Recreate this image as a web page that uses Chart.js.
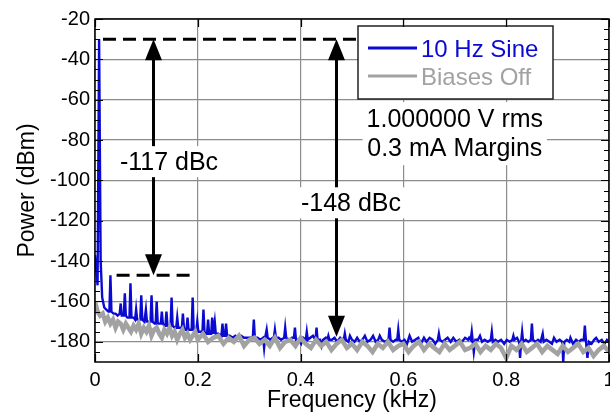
<!DOCTYPE html>
<html><head><meta charset="utf-8">
<script src="https://cdn.jsdelivr.net/npm/chart.js@4.4.1/dist/chart.umd.min.js"></script>
<style>html,body{margin:0;padding:0;background:#fff}canvas{display:block}</style>
</head><body>
<canvas id="c" width="610" height="415"></canvas>
<script>
// ---- tick labels ----
const xTicks = [0, 0.2, 0.4, 0.6, 0.8, 1];
const yTicks = [-20, -40, -60, -80, -100, -120, -140, -160, -180];

// ---- series: 10 Hz Sine (frequency in Hz, power in dBm) ----
const sineFreqHz = [0,5,8,11,14,18,22,26,28,30,32,36,40,44,48,50,52,56,58,60,63,67,69,71,75,78,80,82,86,88,90,92,96,97,99,101,105,108,110,112,116,118,120,122,126,128,130,132,135,137,139,141,145,147,149,151,155,158,160,162,166,169,171,173,176,178,180,182,186,188,190,192,196,197,199,201,205,209,211,213,216,218,220,222,226,228,230,233,235,240,246,248,250,253,255,257,262,268,273,278,284,290,296,302,307,309,311,316,322,327,329,331,332,334,336,341,346,348,350,352,357,362,368,370,372,378,383,387,389,391,396,401,405,410,412,414,419,424,429,431,433,438,441,444,449,452,454,456,461,466,471,477,482,484,486,488,493,496,500,505,510,515,520,525,530,536,541,546,551,554,558,564,571,573,575,580,585,588,590,592,597,602,607,612,617,623,629,634,640,645,651,657,662,667,669,671,676,681,686,692,697,703,709,714,720,726,728,731,733,735,737,740,745,749,753,758,764,770,772,774,779,784,790,796,801,807,812,814,816,821,825,827,829,831,833,838,843,848,850,852,857,862,867,871,873,878,884,889,893,898,904,909,911,913,918,923,925,930,936,941,946,951,953,955,958,961,966,971,975,980,986,991,996,1000];
const sinePower = [-137,-152,-30,-140,-158,-163,-164,-165,-165,-147,-165,-166,-166,-167,-166,-161,-167,-167,-156,-167,-168,-168,-151,-168,-168,-169,-164,-169,-169,-169,-157,-169,-170,-170,-164,-170,-170,-170,-157,-170,-171,-171,-160,-171,-171,-171,-165,-171,-172,-172,-165,-172,-172,-172,-158,-172,-173,-173,-168,-173,-173,-173,-166,-173,-174,-174,-168,-174,-174,-174,-158,-174,-175,-175,-170,-175,-175,-175,-164,-175,-176,-176,-169,-176,-176,-168,-176,-170,-176,-176,-177,-171,-177,-177,-171,-177,-177,-178,-177,-178,-177,-178,-178,-178,-178,-169,-178,-178,-179,-178,-183,-178,-178,-174,-178,-179,-178,-178,-174,-178,-178,-179,-178,-173,-178,-179,-178,-178,-173,-179,-179,-181,-178,-179,-175,-179,-178,-177,-179,-173,-179,-179,-182,-179,-178,-179,-177,-179,-179,-178,-180,-178,-179,-179,-176,-179,-180,-177,-179,-180,-178,-180,-179,-177,-180,-179,-177,-180,-179,-177,-179,-180,-179,-173,-179,-180,-179,-179,-174,-179,-180,-179,-181,-177,-180,-179,-178,-181,-178,-180,-178,-179,-181,-179,-176,-179,-180,-179,-178,-180,-178,-180,-179,-180,-178,-179,-178,-179,-175,-180,-185,-179,-179,-177,-180,-179,-180,-179,-175,-180,-179,-180,-179,-181,-179,-180,-179,-177,-179,-178,-180,-188,-180,-175,-180,-179,-180,-179,-171,-179,-180,-179,-180,-176,-180,-179,-180,-181,-178,-180,-179,-180,-190,-180,-179,-180,-178,-181,-179,-180,-179,-179,-172,-179,-188,-180,-181,-179,-178,-180,-179,-181,-179,-180];

// ---- series: Biases Off ----
const offFreqHz = [0,5,10,15,20,25,30,35,40,45,50,55,60,65,70,75,80,85,90,95,100,105,110,115,120,125,130,135,140,145,150,155,160,165,170,175,180,185,190,195,200,210,220,230,240,250,260,270,280,290,300,310,320,330,340,350,360,370,380,390,400,410,420,430,440,450,460,470,480,490,500,510,520,530,540,550,560,570,580,590,600,610,620,630,640,650,660,670,680,690,700,710,720,730,740,750,760,770,780,790,800,810,820,830,840,850,860,870,880,890,900,910,920,930,940,950,960,970,980,990,1000];
const offPower = [-160,-165,-167,-166,-170,-168,-171,-169,-173,-170,-171,-174,-171,-173,-175,-172,-174,-171,-176,-173,-175,-172,-177,-174,-173,-176,-178,-174,-176,-173,-177,-175,-179,-176,-174,-178,-176,-179,-177,-175,-179,-176,-180,-178,-177,-181,-178,-180,-177,-182,-179,-178,-181,-179,-182,-178,-183,-180,-179,-182,-178,-181,-183,-179,-182,-180,-184,-181,-179,-183,-181,-184,-180,-182,-185,-181,-183,-180,-184,-182,-181,-185,-182,-180,-184,-181,-183,-185,-181,-184,-182,-180,-184,-183,-181,-185,-182,-184,-181,-183,-188,-182,-184,-181,-185,-183,-181,-185,-182,-184,-186,-182,-185,-183,-181,-185,-183,-187,-184,-182,-185];

// ---- annotation values (data units) ----
const carrierLevel = -30;      // top dashed line
const spurLevel = -147;        // highest harmonic
const floorLevel = -177.5;     // noise floor arrow end
const spurSpanKHz = [0.042, 0.188];
const arrowA_kHz = 0.112, arrowB_kHz = 0.469;
const labelA = {text: '-117 dBc', x: 0.144, y: -90.7};
const labelB = {text: '-148 dBc', x: 0.498, y: -111.1};
const infoLines = ['1.000000 V rms', '0.3 mA Margins'];
const infoPos = {x: 0.700, y1: -69.6, y2: -84.0};
const legendNames = ['10 Hz Sine', 'Biases Off'];

const BLUE = '#0a0ad2', GRAY = '#a2a2a2';
const FONT = "'Liberation Sans', Arial, sans-serif";
Chart.defaults.font.family = FONT;
Chart.defaults.color = '#000';

const sineData = sineFreqHz.map((f, i) => ({x: f / 1000, y: sinePower[i]}));
const offData = offFreqHz.map((f, i) => ({x: f / 1000, y: offPower[i]}));

function textBox(ctx, text, cx, cy, h) {
  const w = ctx.measureText(text).width;
  ctx.fillStyle = '#fff';
  ctx.fillRect(cx - w / 2 - 4, cy - h / 2, w + 8, h);
  ctx.fillStyle = '#000';
  ctx.fillText(text, cx, cy + 1);
}
function arrowHead(ctx, x, tipY, dir) {
  const hw = 8.5, hh = 21;
  ctx.beginPath();
  ctx.moveTo(x, tipY);
  ctx.lineTo(x - hw, tipY + dir * hh);
  ctx.lineTo(x + hw, tipY + dir * hh);
  ctx.closePath();
  ctx.fill();
}

const overlay = {
  id: 'overlay',
  afterDatasetsDraw(chart) {
    const {ctx, chartArea: a, scales: {x, y}} = chart;
    ctx.save();
    // dashed lines
    ctx.strokeStyle = '#000'; ctx.lineWidth = 3; ctx.setLineDash([13, 7]);
    ctx.beginPath();
    ctx.moveTo(x.getPixelForValue(0) + 8, y.getPixelForValue(carrierLevel));
    ctx.lineTo(x.getPixelForValue(0.53), y.getPixelForValue(carrierLevel));
    ctx.moveTo(x.getPixelForValue(spurSpanKHz[0]), y.getPixelForValue(spurLevel));
    ctx.lineTo(x.getPixelForValue(spurSpanKHz[1]), y.getPixelForValue(spurLevel));
    ctx.stroke();
    ctx.setLineDash([]);
    // arrows
    ctx.fillStyle = '#000'; ctx.lineWidth = 3;
    [[arrowA_kHz, spurLevel], [arrowB_kHz, floorLevel]].forEach(([k, lo]) => {
      const px = Math.round(x.getPixelForValue(k)) + 0.5;
      const t = y.getPixelForValue(carrierLevel), b = y.getPixelForValue(lo);
      ctx.beginPath(); ctx.moveTo(px, t + 18); ctx.lineTo(px, b - 18); ctx.stroke();
      arrowHead(ctx, px, t, 1);
      arrowHead(ctx, px, b, -1);
    });
    // labels
    ctx.font = '25px ' + FONT; ctx.textAlign = 'center'; ctx.textBaseline = 'middle';
    textBox(ctx, labelA.text, x.getPixelForValue(labelA.x), y.getPixelForValue(labelA.y), 31);
    textBox(ctx, labelB.text, x.getPixelForValue(labelB.x), y.getPixelForValue(labelB.y), 31);
    // info text block
    const ix = x.getPixelForValue(infoPos.x);
    const iy1 = y.getPixelForValue(infoPos.y1), iy2 = y.getPixelForValue(infoPos.y2);
    const iw = Math.max(...infoLines.map(t => ctx.measureText(t).width));
    ctx.fillStyle = '#fff';
    ctx.fillRect(ix - iw / 2 - 4, iy1 - 17, iw + 8, iy2 - iy1 + 34);
    ctx.fillStyle = '#000';
    ctx.fillText(infoLines[0], ix, iy1 + 1);
    ctx.fillText(infoLines[1], ix, iy2 + 1);
    // legend box
    const lx = a.left + 263, ly = a.top + 7, lw = 195, lh = 73;
    ctx.fillStyle = '#fff'; ctx.fillRect(lx, ly, lw, lh);
    ctx.strokeStyle = '#222'; ctx.lineWidth = 1.5; ctx.strokeRect(lx, ly, lw, lh);
    ctx.lineWidth = 3;
    [[BLUE, 22], [GRAY, 50]].forEach(([c, dy], i) => {
      ctx.strokeStyle = c;
      ctx.beginPath(); ctx.moveTo(lx + 10, ly + dy); ctx.lineTo(lx + 59, ly + dy); ctx.stroke();
      ctx.fillStyle = c; ctx.font = '24px ' + FONT; ctx.textAlign = 'left'; ctx.textBaseline = 'middle';
      ctx.fillText(legendNames[i], lx + 63, ly + dy + 2);
    });
    // frame
    ctx.strokeStyle = '#000'; ctx.lineWidth = 1.5;
    ctx.strokeRect(a.left, a.top, a.right - a.left, a.bottom - a.top);
    // y ticks (major + minor, inward, both sides) and x ticks
    ctx.lineWidth = 1.2;
    ctx.beginPath();
    for (let v = -185; v <= -20; v += 5) {
      const py = Math.round(y.getPixelForValue(v)) + 0.5;
      const len = yTicks.includes(v) ? 8 : 5;
      ctx.moveTo(a.left, py); ctx.lineTo(a.left + len, py);
      ctx.moveTo(a.right, py); ctx.lineTo(a.right - len, py);
    }
    xTicks.forEach(v => {
      const px = Math.round(x.getPixelForValue(v)) + 0.5;
      ctx.moveTo(px, a.top); ctx.lineTo(px, a.top + 8);
      ctx.moveTo(px, a.bottom); ctx.lineTo(px, a.bottom - 8);
    });
    ctx.stroke();
    ctx.restore();
  }
};

new Chart(document.getElementById('c'), {
  type: 'line',
  data: {
    datasets: [
      {label: legendNames[1], data: offData, borderColor: GRAY, borderWidth: 4.5, pointRadius: 0, tension: 0, order: 1},
      {label: legendNames[0], data: sineData, borderColor: BLUE, borderWidth: 2.4, pointRadius: 0, tension: 0, order: 2}
    ]
  },
  options: {
    responsive: false, animation: false, devicePixelRatio: 1,
    layout: {padding: {top: 19, right: 1, left: 0, bottom: 0}},
    plugins: {legend: {display: false}, tooltip: {enabled: false}},
    scales: {
      x: {
        type: 'linear', min: 0, max: 1,
        afterBuildTicks: s => { s.ticks = xTicks.map(v => ({value: v})); },
        afterFit: s => { s.height = 53; s.paddingLeft = 0; s.paddingRight = 0; },
        ticks: {font: {size: 20}, padding: 6, color: '#000', maxRotation: 0, autoSkip: false, callback: v => String(v)},
        grid: {color: '#8c8c8c', lineWidth: 1.2, drawTicks: false},
        border: {display: false},
        title: {display: true, text: 'Frequency (kHz)', font: {size: 23}, color: '#000', padding: {top: 0, bottom: 1}}
      },
      y: {
        type: 'linear', min: -190, max: -20,
        afterBuildTicks: s => { s.ticks = yTicks.map(v => ({value: v})); },
        afterFit: s => { s.width = 95; s.paddingTop = 0; s.paddingBottom = 0; },
        ticks: {font: {size: 20}, padding: 5, color: '#000', autoSkip: false},
        grid: {color: '#8c8c8c', lineWidth: 1.2, drawTicks: false},
        border: {display: false},
        title: {display: true, text: 'Power (dBm)', font: {size: 23}, color: '#000', padding: {top: 14, bottom: 0}}
      }
    }
  },
  plugins: [overlay]
});
</script>
</body></html>
